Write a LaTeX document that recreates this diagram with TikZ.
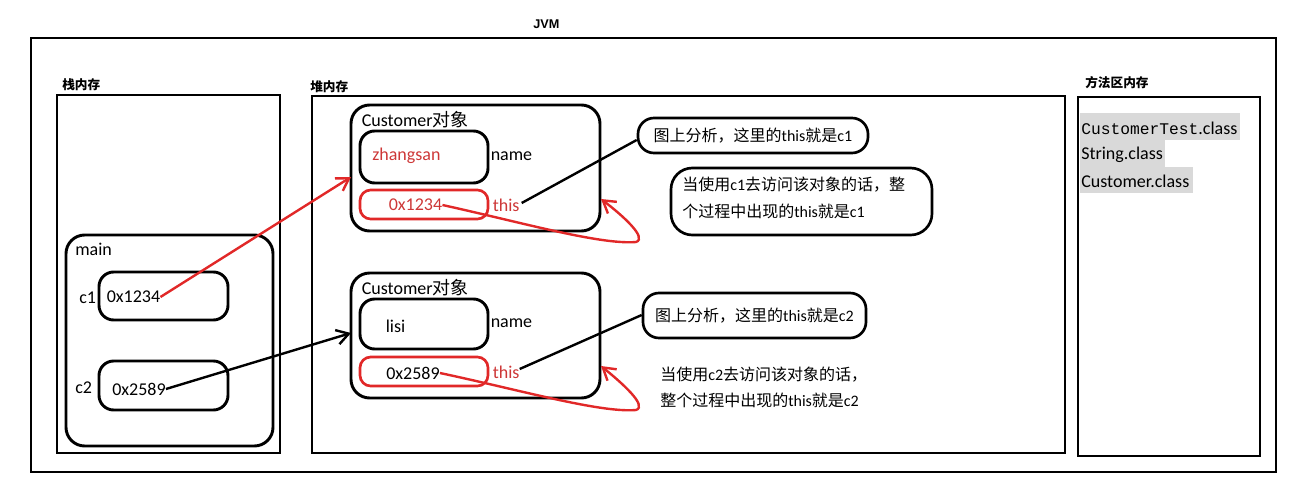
\documentclass[tikz,border=0pt]{standalone}
\usepackage{fontspec}
\setmainfont{Carlito}
\newfontfamily\cjk{Noto Sans CJK SC}
\newfontfamily\monofam{Liberation Mono}
\newfontfamily\headfam{Liberation Sans}
\usetikzlibrary{arrows.meta,fit}

\definecolor{penred}{RGB}{225,40,40}
\definecolor{txtred}{RGB}{205,55,55}
\definecolor{hlgray}{RGB}{217,217,217}

\tikzset{
  frame/.style={draw, line width=2.2pt, inner sep=0pt},
  rbox/.style={draw, line width=2.2pt, inner sep=0pt, rounded corners=11pt},
  redbox/.style={draw=penred, line width=2pt, inner sep=0pt, rounded corners=8pt},
  lbl/.style={inner sep=0pt, anchor=west, font=\fontsize{13.5}{16}\selectfont},
  head/.style={inner sep=0pt, anchor=west, font=\fontsize{9.5}{11}\selectfont\bfseries},
  note/.style={inner sep=0pt, font=\fontsize{12}{14}\selectfont},
  callout/.style={draw, line width=2pt, rounded corners=12pt, inner sep=0pt},
  hl/.style={fill=hlgray, inner sep=0pt},
  redarrow/.style={draw=penred, line width=1.8pt, -{Straight Barb[length=9pt,width=11pt]}},
  blkarrow/.style={draw=black, line width=1.8pt, -{Straight Barb[length=9pt,width=11pt]}},
  link/.style={draw, line width=1.8pt},
}

\begin{document}
\begin{tikzpicture}[x=0.75pt,y=-0.75pt]
\useasboundingbox (0,0) rectangle (1295,482);

% JVM frame
\node[head, font=\fontsize{9.5}{11}\selectfont\headfam\bfseries] (jvmlbl) at (533,24) {JVM};
\node[frame, fit={(31,38)(1276,472)}] (jvm) {};

% stack memory
\node[head] (stacklbl) at (62,85) {\cjk 栈内存};
\node[frame, fit={(57,95)(280,453)}] (stack) {};
\node[rbox, rounded corners=14pt, fit={(66,235)(273,446)}] (mainfr) {};
\node[lbl] (mainlbl) at (75,249) {main};
\node[rbox, fit={(99,272)(228,320)}] (c1box) {};
\node[lbl] (c1lbl) at (79,298) {c1};
\node[lbl] (c1val) at (106.5,297) {0x1234};
\node[rbox, fit={(99,361)(228,410)}] (c2box) {};
\node[lbl] (c2lbl) at (75,388) {c2};
\node[lbl] (c2val) at (112,389) {0x2589};

% heap memory
\node[head] (heaplbl) at (310,87) {\cjk 堆内存};
\node[frame, fit={(312,96)(1065,453)}] (heap) {};

% first Customer object
\node[rbox, rounded corners=14pt, fit={(351,105)(600,231)}] (obj1) {};
\node[lbl] (obj1t) at (361.5,120) {Customer{\cjk 对象}};
\node[rbox, fit={(360,131)(488,183)}] (name1box) {};
\node[lbl, text=txtred] (name1val) at (372,156) {zhangsan};
\node[lbl] (name1lbl) at (490.5,156) {name};
\node[redbox, fit={(360,190)(488,219)}] (this1box) {};
\node[lbl, text=txtred] (this1val) at (388.5,205) {0x1234};
\node[lbl, text=txtred] (this1lbl) at (492.5,205) {this};

% second Customer object
\node[rbox, rounded corners=14pt, fit={(351,273)(600,398)}] (obj2) {};
\node[lbl] (obj2t) at (361.5,288) {Customer{\cjk 对象}};
\node[rbox, fit={(360,299)(488,349)}] (name2box) {};
\node[lbl] (name2val) at (385.6,326) {lisi};
\node[lbl] (name2lbl) at (490.5,323) {name};
\node[redbox, fit={(360,357)(488,386)}] (this2box) {};
\node[lbl] (this2val) at (386,373) {0x2589};
\node[lbl, text=txtred] (this2lbl) at (492.5,372) {this};

% notes
\node[callout, fit={(638,118)(868,153)}] (call1) {};
\node[note] (call1t) at (call1.center) {{\cjk 图上分析，这里的}this{\cjk 就是}c1};
\node[callout, rounded corners=16pt, fit={(671,168)(932,235)}] (call2) {};
\node[note, anchor=west] (call2a) at (682,185) {{\cjk 当使用}c1{\cjk 去访问该对象的话，整}};
\node[note, anchor=west] (call2b) at (682,211) {{\cjk 个过程中出现的}this{\cjk 就是}c1};
\node[callout, fit={(643,293)(866,338)}] (call3) {};
\node[note] (call3t) at (call3.center) {{\cjk 图上分析，这里的}this{\cjk 就是}c2};
\node[note, anchor=west] (note4a) at (660,375) {{\cjk 当使用}c2{\cjk 去访问该对象的话，}};
\node[note, anchor=west] (note4b) at (660,400) {{\cjk 整个过程中出现的}this{\cjk 就是}c2};

% method area
\node[head] (methlbl) at (1085,83) {\cjk 方法区内存};
\node[frame, fit={(1078,97)(1260,456)}] (meth) {};
\node[hl, fit={(1080,113)(1240,140)}] (hl1) {};
\node[hl, fit={(1080,140)(1165,167)}] (hl2) {};
\node[hl, fit={(1080,167)(1193,193)}] (hl3) {};
\node[lbl] (cls1) at (1081,128) {{\monofam\fontsize{12.2}{14}\selectfont CustomerTest}.class};
\node[lbl] (cls2) at (1081,155) {String.class};
\node[lbl] (cls3) at (1081,181) {Customer.class};

% connectors
\coordinate (tip1) at (351,177);
\coordinate (tip2) at (351,333);
\coordinate (loop1) at (601,199);
\coordinate (loop2) at (601,366);
\draw[redarrow] (c1val.east) -- (tip1);
\draw[blkarrow] (c2val.east) -- (tip2);
\draw[link] (this1lbl.east) ++(2,-2) -- (call1.west |- 0,140);
\draw[link] (this2lbl.east) ++(0,-3) -- (call3.west |- 0,315);
\draw[redarrow] (this1val.east) .. controls (520,222) and (600,245) .. (636,242)
  .. controls (648,238) and (622,215) .. (loop1);
\draw[redarrow] (this2val.east) .. controls (520,390) and (600,413) .. (636,410)
  .. controls (648,406) and (622,383) .. (loop2);
\end{tikzpicture}
\end{document}
